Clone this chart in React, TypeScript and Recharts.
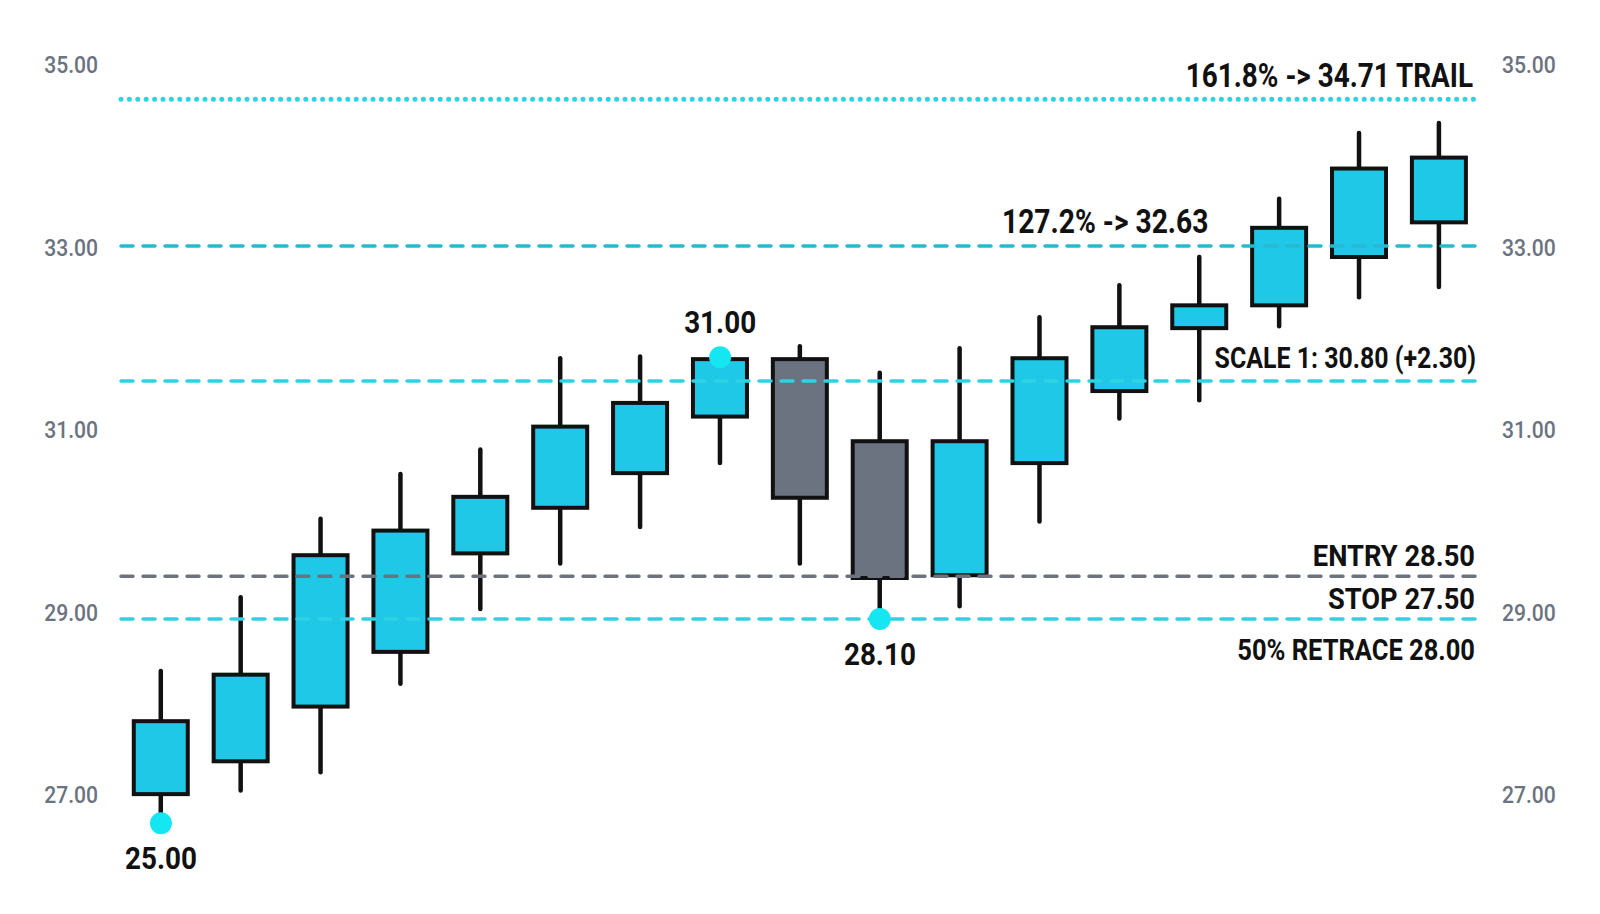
import { Bar, ComposedChart, Label, Line, ReferenceDot, ReferenceLine, XAxis, YAxis } from 'recharts';

// candles
const days = ['d1', 'd2', 'd3', 'd4', 'd5', 'd6', 'd7', 'd8', 'd9', 'd10', 'd11', 'd12', 'd13', 'd14', 'd15', 'd16', 'd17'];
const opens = [27.01, 27.37, 27.97, 28.57, 29.65, 30.15, 30.53, 31.15, 31.78, 30.88, 29.41, 30.64, 31.43, 32.12, 32.37, 32.9, 33.28];
const highs = [28.36, 29.17, 30.03, 30.52, 30.79, 31.79, 31.81, 31.8, 31.92, 31.63, 31.9, 32.24, 32.59, 32.9, 33.54, 34.26, 34.37];
const lows = [26.69, 27.05, 27.25, 28.22, 29.04, 29.54, 29.94, 30.64, 29.54, 28.93, 29.07, 30.0, 31.13, 31.33, 32.14, 32.46, 32.57];
const closes = [27.81, 28.32, 29.63, 29.9, 30.27, 31.04, 31.3, 31.78, 30.26, 29.38, 30.88, 31.79, 32.13, 32.37, 33.22, 33.87, 33.99];

const yTicks = [27, 29, 31, 33, 35];

// trade levels
const trailLevel = 34.63;
const targetLevel = 33.02;
const scaleLevel = 31.54;
const entryLevel = 29.4;
const stopLevel = 28.93;

// swing points marked with dots
const swingDays = ['d1', 'd8', 'd10'];
const swingValues = [26.69, 31.8, 28.93];
const swingLabels = ['25.00', '31.00', '28.10'];

const data = days.map((name, i) => ({
  name,
  open: opens[i],
  high: highs[i],
  low: lows[i],
  close: closes[i],
}));

const CYAN = '#1ec8e6';
const GRAY = '#6b7280';
const LINE_CYAN = '#2fd2e2';
const DOT = '#14e6f2';
const INK = '#111111';

function Candle(props: any) {
  const { x, y, width, height, payload } = props;
  const top = height >= 0 ? y : y + height;
  const h = Math.abs(height);
  const { open, close, high, low } = payload;
  const ppu = h / (high - low);
  const yOf = (v: number) => top + (high - v) * ppu;
  const cx = x + width / 2;
  const bodyTop = yOf(Math.max(open, close));
  const bodyBot = yOf(Math.min(open, close));
  return (
    <g>
      <line x1={cx} x2={cx} y1={top} y2={top + h} stroke={INK} strokeWidth={4.5} strokeLinecap="round" />
      <rect
        x={x}
        y={bodyTop}
        width={width}
        height={Math.max(bodyBot - bodyTop, 1)}
        fill={close >= open ? CYAN : GRAY}
        stroke={INK}
        strokeWidth={4}
      />
    </g>
  );
}

type Anchor = 'start' | 'middle' | 'end';

// condensed text: Roboto squeezed horizontally
function NarrowText({ x, y, anchor, size = 32, sx = 0.87, weight = 700, fill = INK, children }: {
  x: number; y: number; anchor: Anchor; size?: number; sx?: number; weight?: number; fill?: string; children: any;
}) {
  return (
    <text
      transform={`translate(${x},${y}) scale(${sx},1)`}
      x={0}
      y={0}
      textAnchor={anchor}
      fontFamily="Roboto, sans-serif"
      fontWeight={weight}
      fontSize={size}
      fill={fill}
    >
      {children}
    </text>
  );
}

// text placed relative to a reference line's viewBox
const lineLabel = (text: string, dx: number, dy: number, anchor: 'start' | 'end', size: number, sx: number) => (p: any) => {
  const vb = p.viewBox;
  const x = anchor === 'end' ? vb.x + vb.width + dx : vb.x + dx;
  return <NarrowText x={x} y={vb.y + dy} anchor={anchor} size={size} sx={sx}>{text}</NarrowText>;
};

const dotLabel = (text: string, dy: number) => (p: any) => {
  const vb = p.viewBox;
  return <NarrowText x={vb.x + vb.width / 2} y={vb.y + vb.height / 2 + dy} anchor="middle">{text}</NarrowText>;
};

const axisTick = (anchor: Anchor) => (p: any) => (
  <NarrowText x={p.x} y={p.y + 8} anchor={anchor} size={24} sx={0.88} weight={500} fill={GRAY}>
    {Number(p.payload.value).toFixed(2)}
  </NarrowText>
);

const dotOffsets = [46, -24, 46];

export default function App() {
  return (
    <div style={{ position: 'absolute', left: 0, top: 0, width: 1600, height: 914, background: '#fff' }}>
      <ComposedChart
        width={1600}
        height={914}
        data={data}
        margin={{ top: 19.9, right: 0, bottom: 46, left: 0 }}
        barCategoryGap="16%"
      >
        <XAxis dataKey="name" hide />
        <YAxis
          yAxisId="left"
          width={121}
          domain={[26.2, 35.5]}
          ticks={yTicks}
          axisLine={false}
          tickLine={false}
          tickSize={0}
          tickMargin={23}
          tick={axisTick('end')}
        />
        <YAxis
          yAxisId="right"
          orientation="right"
          width={121}
          domain={[26.2, 35.5]}
          ticks={yTicks}
          axisLine={false}
          tickLine={false}
          tickSize={0}
          tickMargin={23}
          tick={axisTick('start')}
        />

        <ReferenceLine
          yAxisId="left"
          y={trailLevel}
          stroke={LINE_CYAN}
          strokeWidth={5}
          strokeDasharray="0 8.4"
          strokeLinecap="round"
          label={lineLabel('161.8% -> 34.71 TRAIL', -6, -12, 'end', 34, 0.82)}
        />
        <ReferenceLine
          yAxisId="left"
          y={targetLevel}
          stroke="#27b9cf"
          strokeWidth={3.5}
          strokeDasharray="12 10"
          strokeLinecap="round"
          label={lineLabel('127.2% -> 32.63', 881, -13, 'start', 34, 0.83)}
        />
        <ReferenceLine
          yAxisId="left"
          y={scaleLevel}
          stroke={LINE_CYAN}
          strokeWidth={3.5}
          strokeDasharray="12 10"
          strokeLinecap="round"
          label={lineLabel('SCALE 1: 30.80 (+2.30)', -3, -13, 'end', 29, 0.86)}
        />
        <ReferenceLine
          yAxisId="left"
          y={entryLevel}
          stroke={GRAY}
          strokeWidth={3.5}
          strokeDasharray="12 10"
          strokeLinecap="round"
          label={lineLabel('ENTRY 28.50', -4, -10, 'end', 30, 0.91)}
        />
        <ReferenceLine
          yAxisId="left"
          y={stopLevel}
          stroke={LINE_CYAN}
          strokeWidth={3.5}
          strokeDasharray="12 10"
          strokeLinecap="round"
          label={lineLabel('STOP 27.50', -4, -10, 'end', 30, 0.91)}
        />
        <ReferenceLine
          yAxisId="left"
          y={stopLevel}
          stroke="none"
          label={lineLabel('50% RETRACE 28.00', -4, 41, 'end', 29, 0.88)}
        />

        <Bar yAxisId="left" dataKey={(d: any) => [d.low, d.high]} shape={Candle} isAnimationActive={false} />
        {/* invisible series so the right-hand axis draws its ticks */}
        <Line yAxisId="right" dataKey="close" stroke="none" dot={false} activeDot={false} isAnimationActive={false} />

        {swingDays.map((day, i) => (
          <ReferenceDot
            key={day}
            yAxisId="left"
            x={day}
            y={swingValues[i]}
            r={11}
            fill={DOT}
            stroke="none"
          >
            <Label content={dotLabel(swingLabels[i], dotOffsets[i])} />
          </ReferenceDot>
        ))}
      </ComposedChart>
    </div>
  );
}
